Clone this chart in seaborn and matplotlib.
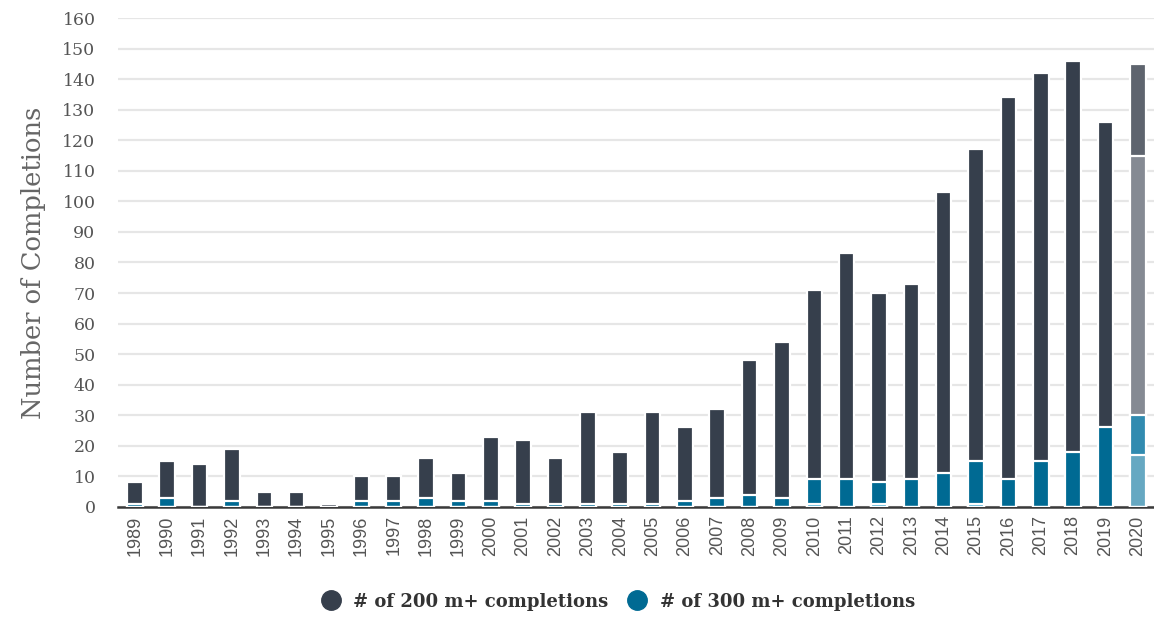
import matplotlib
matplotlib.use("Agg")
import matplotlib.pyplot as plt
from matplotlib.lines import Line2D
import seaborn as sns

# data
years = [str(y) for y in range(1989, 2021)]
total_200 = [8, 15, 14, 19, 5, 5, 1, 10, 10, 16, 11, 23, 22, 16, 31, 18,
             31, 26, 32, 48, 54, 71, 83, 70, 73, 103, 117, 134, 142, 146, 126, 145]
total_300 = [1, 3, 0, 2, 0, 0, 0, 2, 2, 3, 2, 2, 1, 1, 1, 1,
             1, 2, 3, 4, 3, 9, 9, 8, 9, 11, 15, 9, 15, 18, 26, 30]
total_400 = [0, 0, 0, 0, 0, 0, 0, 0, 0, 0, 0, 0, 0, 0, 0, 0,
             0, 0, 0, 0, 0, 1, 0, 1, 0, 0, 1, 0, 0, 0, 0, 0]
# 2020 bar is split further (lighter shades)
split_2020_200 = 115
split_2020_300 = 17

c_dark = "#363f4c"
c_teal = "#006a93"
c_light = "#5bb3d6"
c_2020 = ["#5e646e", "#858a93", "#318bb0", "#66a8c2"]

sns.set_theme(style="white")
plt.rcParams["font.family"] = ["DejaVu Serif"]

fig, ax = plt.subplots(figsize=(11.54, 6.22), dpi=100)
fig.subplots_adjust(left=0.102, right=1.0, top=0.971, bottom=0.185)

edge = dict(edgecolor="white", linewidth=1.6, width=0.48, zorder=3, saturation=1)

pal200 = [c_dark] * (len(years) - 1) + [c_2020[0]]
pal300 = [c_teal] * (len(years) - 1) + [c_2020[2]]

sns.barplot(x=years, y=total_200, hue=years, palette=pal200, order=years,
            legend=False, ax=ax, **edge)
sns.barplot(x=["2020"], y=[split_2020_200], order=years, color=c_2020[1],
            ax=ax, **edge)
sns.barplot(x=years, y=total_300, hue=years, palette=pal300, order=years,
            legend=False, ax=ax, **edge)
sns.barplot(x=["2020"], y=[split_2020_300], order=years, color=c_2020[3],
            ax=ax, **edge)
sns.barplot(x=years, y=total_400, order=years, color=c_light, ax=ax, **edge)

ax.set_xlim(-0.53, 31.5)
ax.set_ylim(0, 160)
ax.set_yticks(range(0, 161, 10))
ax.yaxis.grid(True, color="#e6e6e6", linewidth=1.6, zorder=0)
ax.set_axisbelow(True)
for s in ["top", "right", "left"]:
    ax.spines[s].set_visible(False)
ax.spines["bottom"].set_color("#3a3a3a")
ax.spines["bottom"].set_linewidth(1.8)
ax.spines["bottom"].set_zorder(2)

ax.tick_params(axis="y", length=0, pad=16, labelsize=12.5, labelcolor="#555555")
ax.tick_params(axis="x", length=0, pad=6, labelsize=13, labelcolor="#555555")
for lab in ax.get_xticklabels():
    lab.set_rotation(90)
    lab.set_family("Liberation Sans")

ax.set_xlabel("")
ax.set_ylabel("Number of Completions", fontsize=18.5, color="#666666", labelpad=12)

handles = [
    Line2D([], [], marker="o", linestyle="", markersize=14, color=c_dark),
    Line2D([], [], marker="o", linestyle="", markersize=14, color=c_teal),
]
fig.legend(handles, ["# of 200 m+ completions", "# of 300 m+ completions"],
           loc="lower center", bbox_to_anchor=(0.532, -0.008), ncol=2, frameon=False,
           prop={"family": "DejaVu Serif", "weight": "bold", "size": 13},
           handletextpad=0.25, columnspacing=0.6, labelcolor="#333333")

fig.savefig("out.png", dpi=100)
